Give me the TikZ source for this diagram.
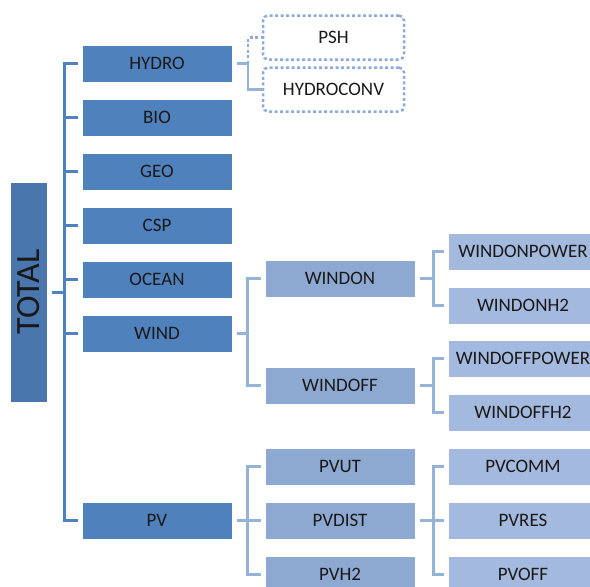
\documentclass[tikz,border=0pt]{standalone}
\usepackage{fontspec}
\usepackage{graphicx}
\setmainfont{Carlito}
\usetikzlibrary{positioning}
\definecolor{totalblue}{HTML}{4A76AE}
\definecolor{mainblue}{HTML}{4F81BD}
\definecolor{subblue}{HTML}{8EA9D1}
\definecolor{leafblue}{HTML}{A3B9DD}
\definecolor{linkblue}{HTML}{95B3D7}
\definecolor{dotblue}{HTML}{8EAADB}

\begin{document}
\begin{tikzpicture}[x=1pt, y=-1pt,
  node distance=17pt and 33pt,
  box/.style={draw=white, line width=0.6pt, fill=mainblue, minimum width=150pt, minimum height=37pt, inner sep=0pt, outer sep=0pt, font=\fontsize{19}{22}\selectfont, text=black!90},
  subbox/.style={box, fill=subblue},
  leafbox/.style={box, fill=leafblue},
  optbox/.style={draw=dotblue, line width=2.5pt, dash pattern=on 3pt off 2.5pt, rounded corners=5pt, minimum width=141pt, minimum height=44pt, inner sep=0pt, outer sep=0pt, font=\fontsize{19}{22}\selectfont, text=black!90},
  trunk/.style={draw=mainblue, line width=3pt},
  branch/.style={draw=linkblue, line width=3pt},
  optlink/.style={draw=dotblue, line width=2.5pt, dash pattern=on 3pt off 2.5pt}]
\useasboundingbox (0,0) rectangle (590,587);
% root and first level
\node[box, fill=totalblue, minimum width=37pt, minimum height=220pt, font=\fontsize{34}{36}\selectfont] (total) at (28.5,292) {\rotatebox{90}{TOTAL}};
\node[box] (hydro) at (157,63.5) {HYDRO};
\node[box, below=of hydro] (bio) {BIO};
\node[box, below=of bio] (geo) {GEO};
\node[box, below=of geo] (csp) {CSP};
\node[box, below=of csp] (ocean) {OCEAN};
\node[box, below=of ocean] (wind) {WIND};
\node[box, below=150pt of wind] (pv) {PV};
% hydro options
\node[optbox, right=31pt of hydro, yshift=26pt] (psh) {PSH};
\node[optbox, right=31pt of hydro, yshift=-26pt] (hydroconv) {HYDROCONV};
% wind
\node[subbox, right=of wind, yshift=55pt] (windon) {WINDON};
\node[subbox, below=70pt of windon] (windoff) {WINDOFF};
\node[leafbox, right=of windon, yshift=27pt] (windonpower) {WINDONPOWER};
\node[leafbox, below=of windonpower] (windonh2) {WINDONH2};
\node[leafbox, right=of windoff, yshift=27pt] (windoffpower) {WINDOFFPOWER};
\node[leafbox, below=of windoffpower] (windoffh2) {WINDOFFH2};
% pv
\node[subbox, right=of pv] (pvdist) {PVDIST};
\node[subbox, above=of pvdist] (pvut) {PVUT};
\node[subbox, below=of pvdist] (pvh2) {PVH2};
\node[leafbox, right=of pvut] (pvcomm) {PVCOMM};
\node[leafbox, right=of pvdist] (pvres) {PVRES};
\node[leafbox, right=of pvh2] (pvoff) {PVOFF};
% brackets
\coordinate (spine) at ([xshift=-18pt]hydro.west);
\draw[trunk] ([xshift=-4pt]hydro.west) -| ([xshift=-18pt]pv.west) -- ([xshift=-4pt]pv.west);
\foreach \n in {bio,geo,csp,ocean,wind}
  \draw[trunk] ([xshift=-4pt]\n.west) -- ++(-14pt,0);
\draw[trunk] ([xshift=5pt]total.east) -- (spine |- total.east);
\draw[branch, line width=2.5pt] ([xshift=5pt]hydro.east) -| ([xshift=-15pt]hydroconv.west) -- (hydroconv.west);
\draw[optlink] ([xshift=-15pt]hydroconv.west |- hydro.east) |- (psh.west);
\draw[branch] ([xshift=-4pt]windon.west) -| ([xshift=-18pt]windoff.west) -- ([xshift=-4pt]windoff.west);
\draw[branch] ([xshift=5pt]wind.east) -- ([xshift=-18pt]windon.west |- wind.east);
\draw[branch] ([xshift=-4pt]pvut.west) -| ([xshift=-18pt]pvh2.west) -- ([xshift=-4pt]pvh2.west);
\draw[branch] ([xshift=5pt]pv.east) -- ([xshift=-4pt]pvdist.west);
\draw[branch] ([xshift=-4pt]windonpower.west) -| ([xshift=-15pt]windonh2.west) -- ([xshift=-4pt]windonh2.west);
\draw[branch] ([xshift=5pt]windon.east) -- ([xshift=-15pt]windonpower.west |- windon.east);
\draw[branch] ([xshift=-4pt]windoffpower.west) -| ([xshift=-15pt]windoffh2.west) -- ([xshift=-4pt]windoffh2.west);
\draw[branch] ([xshift=5pt]windoff.east) -- ([xshift=-15pt]windoffpower.west |- windoff.east);
\draw[branch] ([xshift=-4pt]pvcomm.west) -| ([xshift=-15pt]pvoff.west) -- ([xshift=-4pt]pvoff.west);
\draw[branch] ([xshift=5pt]pvdist.east) -- ([xshift=-4pt]pvres.west);
\end{tikzpicture}
\end{document}
